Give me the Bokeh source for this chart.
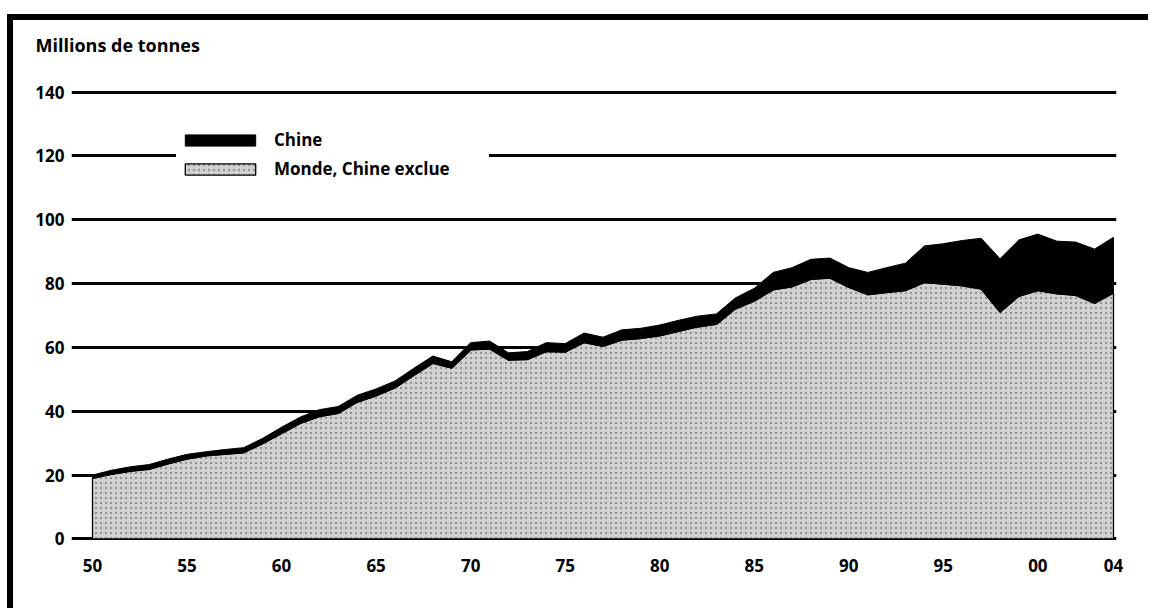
from bokeh.plotting import figure
from bokeh.models import Range1d, FixedTicker, Legend, LegendItem, Spacer
from bokeh.layouts import column, row
from bokeh.embed import file_html
from bokeh.resources import INLINE

# ---- data (millions de tonnes) ----
years = list(range(1950, 2005))
monde = [19, 20.2, 21.2, 21.8, 23.5, 25, 26, 26.5, 27, 29.8,
         33, 36.2, 38.3, 39.3, 42.8, 44.8, 47.3, 51.2, 55, 53.5,
         59.2, 59.5, 56, 56.2, 58.7, 58.5, 61.5, 60.3, 62.3, 62.8,
         63.6, 65, 66.4, 67.2, 72, 74.5, 78, 79, 81.3, 81.7,
         78.8, 76.5, 77.2, 77.8, 80.3, 79.8, 79.3, 78.3, 71, 76,
         77.8, 76.8, 76.3, 73.8, 77]
chine = [1.0, 1.3, 1.4, 1.5, 1.5, 1.5, 1.3, 1.5, 1.6, 1.7,
         2.0, 2.0, 2.2, 2.2, 2.2, 2.2, 2.2, 2.3, 2.3, 2.0,
         2.3, 2.5, 2.3, 2.5, 2.8, 2.7, 3.0, 2.9, 3.2, 3.2,
         3.4, 3.5, 3.4, 3.3, 3.5, 4.0, 5.5, 6.0, 6.3, 6.3,
         6.2, 7.0, 7.8, 8.6, 11.5, 12.7, 14.2, 15.9, 16.8, 17.7,
         17.7, 16.5, 16.7, 17.0, 17.5]
y_ticks = [0, 20, 40, 60, 80, 100, 120, 140]
x_ticks = [1950, 1955, 1960, 1965, 1970, 1975, 1980, 1985, 1990, 1995, 2000, 2004]
x_labels = ["50", "55", "60", "65", "70", "75", "80", "85", "90", "95", "00", "04"]
title_text = "Millions de tonnes"
label_chine = "Chine"
label_monde = "Monde, Chine exclue"

total = [m + c for m, c in zip(monde, chine)]

FONT = "Open Sans"

p = figure(width=1135, height=588, output_backend="svg", toolbar_location=None,
           x_range=Range1d(1948.889, 2004.159), y_range=Range1d(-0.5, 140.5),
           min_border_left=58, min_border_right=32, min_border_top=68, min_border_bottom=68)
p.background_fill_color = "white"
p.border_fill_color = "white"
p.outline_line_color = None

# title (a trailing empty line lifts it away from the frame)
p.title.text = title_text + "\n"
p.title.align = "left"
p.title.offset = -36
p.title.text_font = FONT
p.title.text_font_size = "18px"
p.title.text_font_style = "bold"
p.title.text_color = "black"
p.title.standoff = 20

# areas as polygons built from the data arrays
xs_monde = years + [years[-1], years[0]]
ys_monde = monde + [0, 0]
r_monde = p.patch(xs_monde, ys_monde, fill_color="#d2d2d2", line_color="black", line_width=1.3,
                  hatch_pattern="dot", hatch_color="#6a6a6a", hatch_scale=5, hatch_weight=1.2,
                  hatch_alpha=0.6)

xs_chine = years + years[::-1]
ys_chine = total + monde[::-1]
r_chine = p.patch(xs_chine, ys_chine, fill_color="black", line_color="black", line_width=1)

# grid
p.xgrid.grid_line_color = None
p.ygrid.ticker = FixedTicker(ticks=y_ticks)
p.ygrid.grid_line_color = "black"
p.ygrid.grid_line_width = 3

# axes
p.yaxis.ticker = FixedTicker(ticks=y_ticks)
p.xaxis.ticker = FixedTicker(ticks=x_ticks)
p.xaxis.major_label_overrides = {t: l for t, l in zip(x_ticks, x_labels)}
for ax in (p.xaxis[0], p.yaxis[0]):
    ax.axis_line_color = None
    ax.major_tick_line_color = None
    ax.minor_tick_line_color = None
    ax.major_tick_in = 0
    ax.major_tick_out = 0
    ax.minor_tick_in = 0
    ax.minor_tick_out = 0
    ax.major_label_text_font = FONT
    ax.major_label_text_font_size = "17px"
    ax.major_label_text_font_style = "bold"
    ax.major_label_text_color = "black"
p.yaxis.major_label_standoff = 7
p.xaxis.major_label_standoff = 18

# legend
legend = Legend(items=[LegendItem(label=label_chine, renderers=[r_chine]),
                       LegendItem(label=label_monde, renderers=[r_monde])],
                location=(105, 360), orientation="vertical")
legend.glyph_width = 88
legend.glyph_height = 14
legend.label_standoff = 10
legend.label_height = 14
legend.label_width = 215
legend.spacing = 6
legend.padding = 15
legend.margin = 0
legend.border_line_color = None
legend.background_fill_color = "white"
legend.background_fill_alpha = 1
legend.label_text_font = FONT
legend.label_text_font_size = "17px"
legend.label_text_font_style = "bold"
legend.label_text_color = "black"
p.add_layout(legend, "center")

framed = column(p, styles={"border-left": "6px solid black", "border-top": "6px solid black"})
layout = column(Spacer(height=14), row(Spacer(width=7), framed))

open("out.html", "w").write(file_html(layout, INLINE))
